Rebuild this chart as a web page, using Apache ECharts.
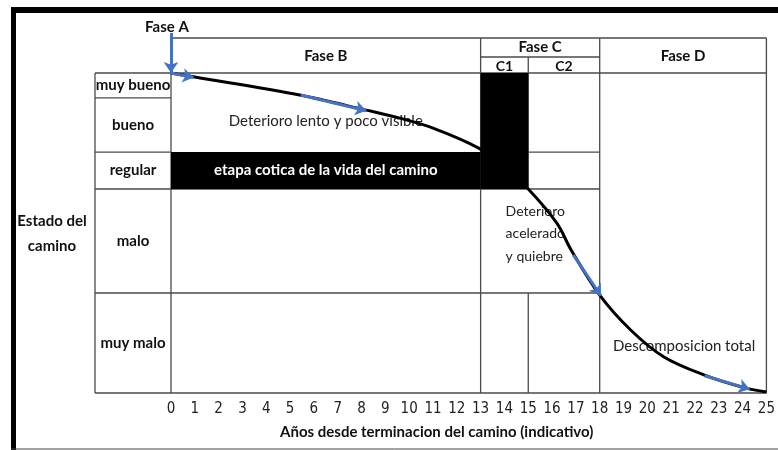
<!DOCTYPE html>
<html>
<head>
<meta charset="utf-8">
<script src="https://cdn.jsdelivr.net/npm/echarts@6/dist/echarts.min.js"></script>
<style>
  html, body { margin: 0; padding: 0; background: #fff; }
  #main { width: 778px; height: 450px; }
</style>
</head>
<body>
<div id="main"></div>
<script>
// estados del camino (de abajo hacia arriba) y sus limites en el eje y (0-100)
var stateNames = ['muy malo', 'malo', 'regular', 'bueno', 'muy bueno'];
var stateBounds = [0, 31.25, 63.75, 75.3, 92.2, 100];

// fases (años)
var phaseNames = ['Fase B', 'Fase C', 'Fase D'];
var phaseBounds = [0, 13, 18, 25];
var subPhaseNames = ['C1', 'C2'];
var subPhaseBounds = [13, 15, 18];

// curva de deterioro
var curveX = [0, 1, 5.4, 8.2, 9.6, 11, 12.9, 14, 15, 16.2, 16.8, 18, 19.3, 20.7, 22.4, 24.1, 25];
var curveY = [100, 98.75, 93.1, 88.4, 85.9, 82.8, 76.6, 70.5, 63.75, 53.1, 44.7, 30.6, 19.7, 11.25, 5.6, 1.6, 0.3];

// flechas azules (inicio, fin)
var arrowFaseA = [[0, 112.5], [0, 100]];
var arrow1 = [[0, 100], [0.95, 98.6]];
var arrow2 = [[5.45, 93.1], [8.2, 88.2]];
var arrow3 = [[16.9, 43.1], [18.05, 30.4]];
var arrow4 = [[22.4, 5.4], [24.3, 1.2]];

var FONT = 'Lato, "Liberation Sans", sans-serif';
var NARROW = '"Liberation Sans Narrow", "DejaVu Sans Condensed", Lato, sans-serif';

var myChart = echarts.init(document.getElementById('main'));

var option = {
    animation: false,
    backgroundColor: '#fff',
    grid: { left: 171, right: 9, top: 73, bottom: 57 },
    xAxis: {
        type: 'value',
        min: 0,
        max: 25,
        interval: 1,
        name: 'Años desde terminacion del camino (indicativo)',
        nameLocation: 'middle',
        nameGap: 32,
        nameTextStyle: { fontFamily: FONT, fontWeight: 'bold', fontSize: 15, color: '#111', padding: [0, 64, 0, 0] },
        axisLine: { show: false },
        axisTick: { show: false },
        splitLine: { show: false },
        axisLabel: { margin: 9, fontFamily: NARROW, fontSize: 15, color: '#222' }
    },
    yAxis: {
        type: 'value',
        min: 0,
        max: 100,
        show: false,
        splitLine: { show: false }
    },
    series: [
        {
            type: 'line',
            data: curveX.map(function (x, i) { return [x, curveY[i]]; }),
            smooth: 0.35,
            showSymbol: false,
            lineStyle: { color: '#000', width: 3 },
            z: 3,
            markArea: {
                silent: true,
                itemStyle: { color: '#000', opacity: 1 },
                label: {
                    show: true,
                    position: 'inside',
                    color: '#fff',
                    fontFamily: FONT,
                    fontWeight: 'bold',
                    fontSize: 15
                },
                data: [
                    [{ name: 'etapa cotica de la vida del camino', xAxis: 0, yAxis: stateBounds[2] },
                     { xAxis: 13, yAxis: stateBounds[3] }],
                    [{ name: '', xAxis: 13, yAxis: stateBounds[2], label: { show: false } },
                     { xAxis: 15, yAxis: 100 }]
                ]
            }
        },
        {
            type: 'lines',
            coordinateSystem: 'cartesian2d',
            clip: false,
            z: 4,
            symbol: ['none', 'arrow'],
            symbolSize: 11,
            lineStyle: { color: '#4472C4', width: 3, opacity: 1, curveness: 0 },
            data: [arrowFaseA, arrow1, arrow2, arrow3, arrow4].map(function (c) { return { coords: c }; })
        }
    ]
};

myChart.setOption(option);

// tabla y textos alrededor del grafico
function px(x, y) { return myChart.convertToPixel({ xAxisIndex: 0, yAxisIndex: 0 }, [x, y]); }
var labelLeft = 95;
var gridTop = px(0, 100)[1];
var headerTop = gridTop - 35;
var subHeader = gridTop - 16;
var LC = '#4a4a4a';
var g = [];

function hline(y, x1, x2) { g.push({ type: 'line', shape: { x1: x1, y1: y, x2: x2, y2: y }, style: { stroke: LC, lineWidth: 1.3 } }); }
function vline(x, y1, y2) { g.push({ type: 'line', shape: { x1: x, y1: y1, x2: x, y2: y2 }, style: { stroke: LC, lineWidth: 1.3 } }); }
function text(t, x, y, st) {
    g.push({ type: 'text', x: x, y: y, style: Object.assign({ text: t, fontFamily: FONT, fontSize: 15, fill: '#111', align: 'center', verticalAlign: 'middle' }, st || {}) });
}

var X = function (v) { return px(v, 0)[0]; };
var Y = function (v) { return px(0, v)[1]; };

// horizontales
hline(Y(100), labelLeft, X(25));
hline(Y(0), labelLeft, X(25));
hline(Y(stateBounds[1]), labelLeft, X(18));
hline(Y(stateBounds[2]), labelLeft, X(18));
hline(Y(stateBounds[3]), labelLeft, X(0));
hline(Y(stateBounds[3]), X(15), X(18));
hline(Y(stateBounds[4]), labelLeft, X(0));
hline(headerTop, X(0), X(25));
hline(subHeader, X(13), X(18));
// verticales
vline(labelLeft, Y(100), Y(0));
vline(X(0), headerTop, Y(0));
vline(X(13), headerTop, Y(0));
vline(X(15), subHeader, Y(stateBounds[2]));
vline(X(15), Y(stateBounds[1]), Y(0));
vline(X(18), headerTop, Y(0));
vline(X(25), headerTop, Y(0));

// encabezados de fases
text('Fase A', X(0) - 4, headerTop - 11, { fontWeight: 'bold' });
text(phaseNames[0], (X(phaseBounds[0]) + X(phaseBounds[1])) / 2, (headerTop + gridTop) / 2 + 1, { fontWeight: 'bold' });
text(phaseNames[1], (X(phaseBounds[1]) + X(phaseBounds[2])) / 2, (headerTop + subHeader) / 2, { fontWeight: 'bold' });
text(phaseNames[2], (X(phaseBounds[2]) + X(phaseBounds[3])) / 2, (headerTop + gridTop) / 2 + 1, { fontWeight: 'bold' });
subPhaseNames.forEach(function (n, i) {
    text(n, (X(subPhaseBounds[i]) + X(subPhaseBounds[i + 1])) / 2, (subHeader + gridTop) / 2 + 1, { fontWeight: 'bold', fontSize: 14 });
});

// estados
stateNames.forEach(function (n, i) {
    text(n, (labelLeft + X(0)) / 2, (Y(stateBounds[i]) + Y(stateBounds[i + 1])) / 2, { fontWeight: 'bold' });
});
text('Estado del\ncamino', 52, 234, { fontWeight: 'bold', lineHeight: 25 });

// anotaciones
text('Deterioro lento y poco visible', X(6.5), Y(85), { fontSize: 15, fill: '#222' });
text('Deterioro\nacelerado\ny quiebre', X(14.05), Y(49.7), { fontSize: 14, fill: '#222', align: 'left', lineHeight: 22.5 });
text('Descomposicion total', X(18.56), Y(14.7), { fontSize: 15, fill: '#222', align: 'left' });

// marco
g.push({ type: 'rect', shape: { x: 11, y: 7, width: 5, height: 443 }, style: { fill: '#000' } });
g.push({ type: 'rect', shape: { x: 11, y: 7, width: 767, height: 6 }, style: { fill: '#000' } });
g.push({ type: 'line', shape: { x1: 11, y1: 449, x2: 778, y2: 449 }, style: { stroke: '#444', lineWidth: 1 } });

myChart.setOption({ graphic: g });
</script>
</body>
</html>
